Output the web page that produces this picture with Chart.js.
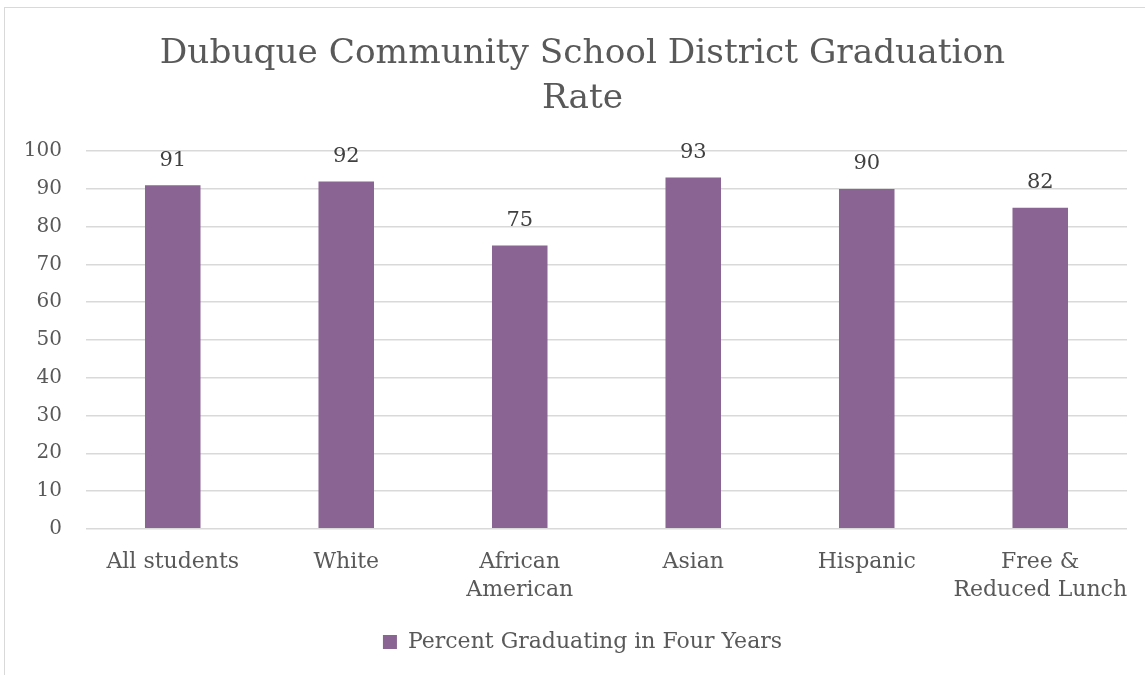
<!DOCTYPE html>
<html>
<head>
<meta charset="utf-8">
<script src="https://cdn.jsdelivr.net/npm/chart.js@4.4.0/dist/chart.umd.min.js"></script>
<style>
    html, body { margin: 0; padding: 0; background: #fff; }
    #wrap {
        position: absolute; left: 4px; top: 7px;
        width: 1150px; height: 675px;
        border: 1px solid #d9d9d9;
        box-sizing: border-box;
    }
    canvas { display: block; }
</style>
</head>
<body>
<div id="wrap"><canvas id="gradChart"></canvas></div>
<script>
// chart data
const categories = ['All students', 'White', ['African', 'American'], 'Asian', 'Hispanic', ['Free &', 'Reduced Lunch']];
const gradRates = [91, 92, 75, 93, 90, 85];
const rateLabels = ['91', '92', '75', '93', '90', '82']; // labels as printed on the chart
const yTicks = [0, 10, 20, 30, 40, 50, 60, 70, 80, 90, 100];

const serif = "'DejaVu Serif', serif";
const barColor = '#8a6493';

// draws the value labels above each bar
const barLabels = {
    id: 'barLabels',
    afterDatasetsDraw(chart) {
        const ctx = chart.ctx;
        const meta = chart.getDatasetMeta(0);
        ctx.save();
        ctx.font = '21px ' + serif;
        ctx.fillStyle = '#404040';
        ctx.textAlign = 'center';
        ctx.textBaseline = 'middle';
        meta.data.forEach((bar, i) => {
            ctx.fillText(rateLabels[i], bar.x, bar.y - 25);
        });
        ctx.restore();
    }
};

// title and legend sit centred on the whole frame, not on the padded area
const centreBlocks = {
    id: 'centreBlocks',
    afterLayout(chart) {
        [chart.titleBlock, chart.legend].forEach(b => {
            b.left += 7;
            b.right += 7;
        });
    }
};

const ctx = document.getElementById('gradChart').getContext('2d');
const chart = new Chart(ctx, {
    type: 'bar',
    data: {
        labels: categories,
        datasets: [{
            label: 'Percent Graduating in Four Years',
            data: gradRates,
            backgroundColor: barColor,
            borderWidth: 0,
            barPercentage: 0.32,
            categoryPercentage: 1.0
        }]
    },
    options: {
        responsive: true,
        maintainAspectRatio: false,
        animation: false,
        layout: { padding: { left: 19, right: 26, top: 14, bottom: 18 } },
        plugins: {
            title: {
                display: true,
                text: ['Dubuque Community School District Graduation', 'Rate'],
                color: '#595959',
                font: { family: serif, size: 34.3, weight: 'normal', lineHeight: 1.3 },
                padding: { top: 10, bottom: 30 }
            },
            legend: {
                position: 'bottom',
                labels: {
                    color: '#595959',
                    font: { family: serif, size: 22 },
                    boxWidth: 14,
                    boxHeight: 14,
                    padding: 15
                }
            },
            tooltip: { enabled: false }
        },
        scales: {
            x: {
                grid: { display: false },
                border: { display: false },
                afterFit(axis) {
                    axis.paddingLeft = 0;
                    axis.paddingRight = 0;
                },
                ticks: {
                    color: '#595959',
                    font: { family: serif, size: 22, lineHeight: 1.3 },
                    maxRotation: 0,
                    autoSkip: false,
                    padding: 11
                }
            },
            y: {
                min: 0,
                max: 100,
                afterBuildTicks(axis) {
                    axis.ticks = yTicks.map(v => ({ value: v }));
                },
                afterFit(axis) {
                    axis.width = 62; // widest label + tick padding
                },
                grid: { color: '#d9d9d9', lineWidth: 1.5, drawTicks: false },
                border: { display: false },
                ticks: {
                    color: '#595959',
                    font: { family: serif, size: 20 },
                    padding: 24
                }
            }
        }
    },
    plugins: [barLabels, centreBlocks]
});
</script>
</body>
</html>
